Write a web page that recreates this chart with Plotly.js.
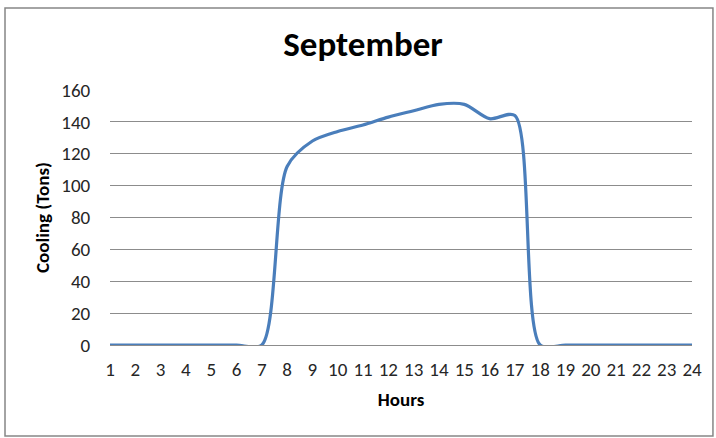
<!DOCTYPE html>
<html>
<head>
<meta charset="utf-8">
<script src="https://cdn.plot.ly/plotly-3.0.1.min.js"></script>
<style>
html,body{margin:0;padding:0;background:#fff;}
#chart{width:716px;height:438px;}
</style>
</head>
<body>
<div id="chart"></div>
<script>
const hours = [1,2,3,4,5,6,7,8,9,10,11,12,13,14,15,16,17,18,19,20,21,22,23,24];
const cooling = [0,0,0,0,0,0,0,112,128,134,138,143,147,151,151,142,144,0,0,0,0,0,0,0];
const tickLabels = hours.map(String);

const font = "Carlito, 'Liberation Sans', Arial, sans-serif";

const trace = {
  x: hours,
  y: cooling,
  type: 'scatter',
  mode: 'lines',
  line: {color: '#4a7ebb', width: 3.2, shape: 'spline', smoothing: 0.8},
  hoverinfo: 'x+y'
};

const layout = {
  width: 716,
  height: 438,
  margin: {l: 110, r: 24, t: 90, b: 93},
  paper_bgcolor: '#ffffff',
  plot_bgcolor: '#ffffff',
  showlegend: false,
  title: {
    text: '<b>September</b>',
    font: {family: font, size: 35, color: '#000'},
    x: 0.507, xref: 'container', xanchor: 'center',
    y: 0.9, yref: 'container', yanchor: 'middle'
  },
  xaxis: {
    range: [1, 24],
    tickvals: hours,
    ticktext: tickLabels,
    showgrid: false,
    zeroline: false,
    showline: false,
    ticks: 'outside',
    ticklen: 7,
    tickcolor: 'rgba(0,0,0,0)',
    tickfont: {family: font, size: 19, color: '#262626'},
    title: {text: '<b>Hours</b>', font: {family: font, size: 19, color: '#000'}, standoff: 12}
  },
  yaxis: {
    range: [0, 160],
    dtick: 20,
    showgrid: true,
    gridcolor: '#8c8c8c',
    gridwidth: 1,
    zeroline: true,
    zerolinecolor: '#8c8c8c',
    zerolinewidth: 1,
    showline: false,
    ticks: 'outside',
    ticklen: 15,
    tickcolor: 'rgba(0,0,0,0)',
    tickfont: {family: font, size: 19, color: '#262626'},
    title: {text: '<b>Cooling (Tons)</b>', font: {family: font, size: 19, color: '#000'}, standoff: 6}
  },
  shapes: [{
    type: 'rect', xref: 'paper', yref: 'paper',
    x0: -0.1804, x1: 1.036, y0: -0.357, y1: 1.3216,
    line: {color: '#868686', width: 1.5}, fillcolor: 'rgba(0,0,0,0)', layer: 'below'
  }]
};

Plotly.newPlot('chart', [trace], layout, {displayModeBar: false, staticPlot: true});
</script>
</body>
</html>
